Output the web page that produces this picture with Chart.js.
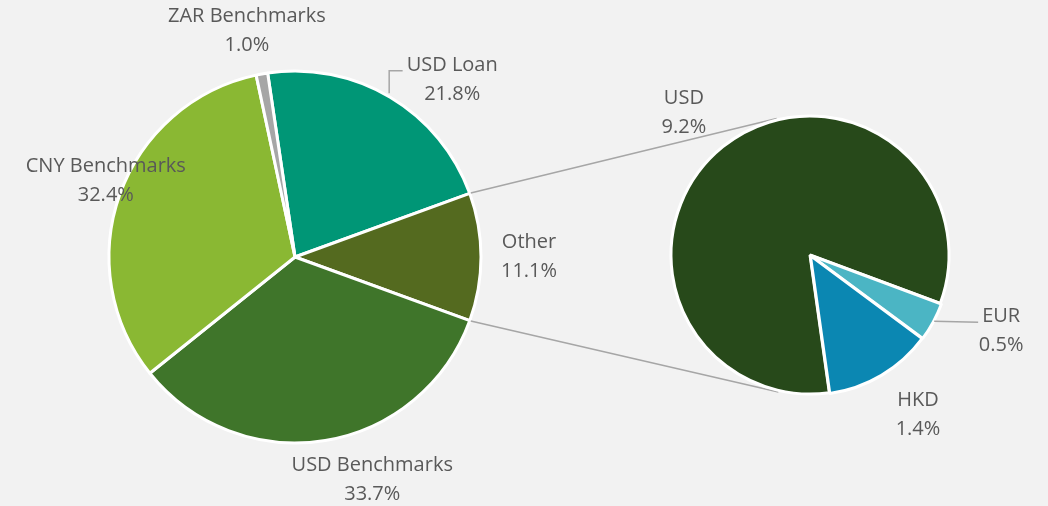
<!DOCTYPE html>
<html><head><meta charset="utf-8">
<script src="https://cdn.jsdelivr.net/npm/chart.js@4.4.1/dist/chart.umd.min.js"></script>
<style>
html,body{margin:0;padding:0;background:#f2f2f2;overflow:hidden;}
#wrap{position:relative;width:1048px;height:506px;}
canvas{position:absolute;left:0;top:0;}
</style></head><body>
<div id="wrap"><canvas id="c1" width="1048" height="506"></canvas><canvas id="c2" width="1048" height="506"></canvas></div>
<script>
// ---- data ----
const mainLabels = ['USD Loan', 'Other', 'USD Benchmarks', 'CNY Benchmarks', 'ZAR Benchmarks'];
const mainValues = [21.8, 11.1, 33.7, 32.4, 1.0];
const subLabels = ['USD', 'EUR', 'HKD'];
const subValues = [9.2, 0.5, 1.4];
const splitIndex = 1; // "Other" is broken out into the second pie

// ---- styles ----
const mainColors = ['#009676', '#546a1f', '#3f752a', '#8ab833', '#a6a6a6'];
const subColors = ['#27491a', '#4bb5c4', '#0b87b2'];
const subOffsets = [0, 3, 3];
const TEXT = '#595959';
const LINE = '#a6a6a6';
const FONT = '20px "Open Sans"';
const LINE_H = 29;
// label placement relative to the slice's outer mid-point (dx, dy), optional leader
const mainLabelPlace = [
  {dx: 62, dy: -17, leader: 'up'},
  {dx: 48, dy: 0},
  {dx: 47, dy: 39},
  {dx: -14, dy: -14},
  {dx: -15, dy: -43}
];
const subLabelPlace = [
  {dx: -39, dy: -34},
  {dx: 69, dy: 10, leader: 'side'},
  {dx: 37, dy: 40}
];

function total(a){ return a.reduce((s, v) => s + v, 0); }
const mainTotal = total(mainValues);
const before = mainValues.slice(0, splitIndex).reduce((s, v) => s + v, 0);
const mainRotation = 90 - (before + mainValues[splitIndex] / 2) / mainTotal * 360;

function drawLabels(chart, labels, values, place){
  const ctx = chart.ctx;
  const meta = chart.getDatasetMeta(0);
  ctx.save();
  ctx.font = FONT;
  ctx.fillStyle = TEXT;
  ctx.textAlign = 'center';
  ctx.textBaseline = 'middle';
  meta.data.forEach((arc, i) => {
    const mid = (arc.startAngle + arc.endAngle) / 2;
    const ex = arc.x + Math.cos(mid) * arc.outerRadius;
    const ey = arc.y + Math.sin(mid) * arc.outerRadius;
    const p = place[i];
    const cx = ex + p.dx, cy = ey + p.dy;
    const l1 = labels[i], l2 = values[i].toFixed(1) + '%';
    ctx.fillText(l1, cx, cy - LINE_H / 2);
    ctx.fillText(l2, cx, cy + LINE_H / 2);
    if (p.leader) {
      ctx.save();
      ctx.strokeStyle = LINE; ctx.lineWidth = 1.5;
      ctx.beginPath();
      const lx = cx - ctx.measureText(l1).width / 2 - 4;
      if (p.leader === 'up') {
        const ly = cy - LINE_H / 2 + 5;
        ctx.moveTo(ex - 1, ey - 4);
        ctx.lineTo(ex - 1, ly);
        ctx.lineTo(lx, ly);
      } else {
        ctx.moveTo(ex + 2, ey);
        ctx.lineTo(lx, ey + 1);
      }
      ctx.stroke();
      ctx.restore();
    }
  });
  ctx.restore();
}

const common = {
  responsive: false, animation: false, events: [], devicePixelRatio: 1,
  plugins: {legend: {display: false}, tooltip: {enabled: false}}
};

const chart1 = new Chart(document.getElementById('c1'), {
  type: 'pie',
  data: {labels: mainLabels, datasets: [{
    data: mainValues, backgroundColor: mainColors,
    borderColor: '#ffffff', borderWidth: 3, radius: 186
  }]},
  options: Object.assign({}, common, {
    rotation: mainRotation,
    layout: {padding: {left: 108, right: 566, top: 70, bottom: 62}}
  }),
  plugins: [{id: 'lbl1', afterDatasetsDraw(c){ drawLabels(c, mainLabels, mainValues, mainLabelPlace); }}]
});

function tangentPoint(px, py, cx, cy, r, sign){
  const vx = px - cx, vy = py - cy;
  const d = Math.hypot(vx, vy);
  const a = Math.atan2(vy, vx) + sign * Math.acos(r / d);
  return [cx + r * Math.cos(a), cy + r * Math.sin(a)];
}

const chart2 = new Chart(document.getElementById('c2'), {
  type: 'pie',
  data: {labels: subLabels, datasets: [{
    data: subValues, backgroundColor: subColors, offset: subOffsets,
    borderColor: '#ffffff', borderWidth: 3, radius: 139
  }]},
  options: Object.assign({}, common, {
    rotation: 172,
    layout: {padding: {left: 670, right: 98, top: 115, bottom: 111}}
  }),
  plugins: [{
    id: 'connect',
    beforeDatasetsDraw(c){
      const arc = chart1.getDatasetMeta(0).data[splitIndex];
      const m2 = c.getDatasetMeta(0).data[0];
      const R = arc.outerRadius + 1, r2 = m2.outerRadius + 1.5;
      const c2x = c.chartArea.left + c.chartArea.width / 2;
      const c2y = c.chartArea.top + c.chartArea.height / 2;
      const ctx = c.ctx;
      ctx.save();
      ctx.strokeStyle = LINE; ctx.lineWidth = 1.5;
      [[arc.startAngle, 1], [arc.endAngle, -1]].forEach(([ang, s]) => {
        const px = arc.x + Math.cos(ang) * R, py = arc.y + Math.sin(ang) * R;
        const [tx, ty] = tangentPoint(px, py, c2x, c2y, r2, s);
        ctx.beginPath(); ctx.moveTo(px, py); ctx.lineTo(tx, ty); ctx.stroke();
      });
      ctx.restore();
    },
    afterDatasetsDraw(c){ drawLabels(c, subLabels, subValues, subLabelPlace); }
  }]
});
</script>
</body></html>
